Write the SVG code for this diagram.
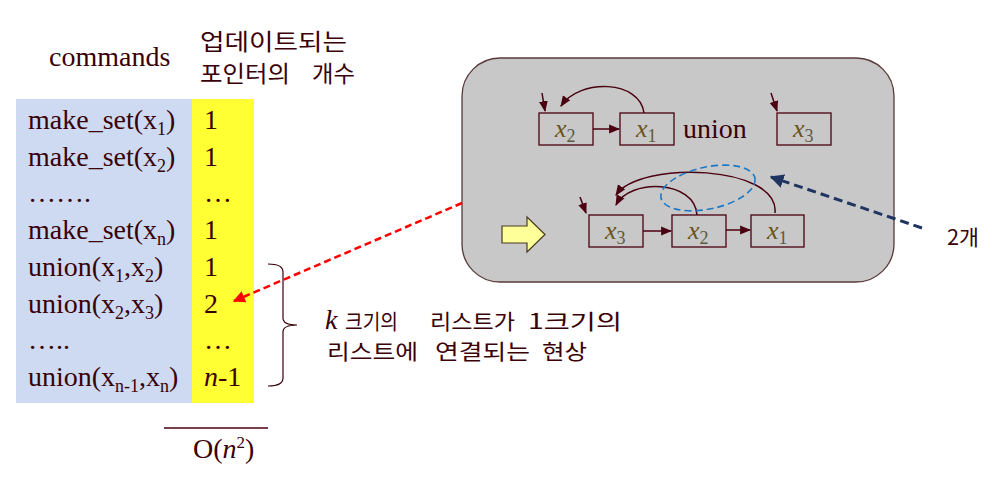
<svg xmlns="http://www.w3.org/2000/svg" width="994" height="484" viewBox="0 0 994 484">
<style>
.t{font-family:"Liberation Serif","Times New Roman",serif;font-size:28px;fill:#3a0008}
.k{font-family:"Noto Sans CJK KR","Noto Sans",sans-serif;font-size:21px;fill:#3a0008}
.h{font-family:"Noto Sans CJK KR","Noto Sans",sans-serif;font-size:23px;fill:#3a0008}
.nb{fill:none;stroke:#4a0010;stroke-width:1.3}
.nx{font-family:"Liberation Serif","Times New Roman",serif;font-style:italic;font-size:26px;fill:#6a5418}
.ns{font-family:"Liberation Serif","Times New Roman",serif;font-style:normal;font-size:18px;fill:#5a5a40}
.ln{fill:none;stroke:#4a0010;stroke-width:1.5}
</style>
<defs>
<marker id="ah2" viewBox="0 0 10 10" refX="9" refY="5" markerWidth="11" markerHeight="11" orient="auto" markerUnits="userSpaceOnUse">
<path d="M0 1 L10 5 L0 9 z" fill="#4a0010"/>
</marker>
<marker id="red" viewBox="0 0 10 10" refX="9" refY="5" markerWidth="12" markerHeight="12" orient="auto" markerUnits="userSpaceOnUse">
<path d="M0 0 L10 5 L0 10 z" fill="#ff0000"/>
</marker>
<marker id="navy" viewBox="0 0 10 10" refX="9" refY="5" markerWidth="14" markerHeight="14" orient="auto" markerUnits="userSpaceOnUse">
<path d="M0 0 L10 5 L0 10 z" fill="#1f3460"/>
</marker>
</defs>

<g id="table">
<rect x="16" y="99" width="176" height="304" fill="#cddaf1"/>
<rect x="192" y="99" width="62" height="304" fill="#ffff33"/>
<text class="t" x="49" y="66">commands</text>
<text class="h" x="200" y="50" textLength="147" lengthAdjust="spacingAndGlyphs">업데이트되는</text>
<text class="h" x="200" y="82" textLength="90" lengthAdjust="spacingAndGlyphs">포인터의</text>
<text class="h" x="312" y="82" textLength="43" lengthAdjust="spacingAndGlyphs">개수</text>
<text class="t" x="28" y="129">make_set(x<tspan dy="6" font-size="18">1</tspan><tspan dy="-6">)</tspan></text>
<text class="t" x="28" y="165.5">make_set(x<tspan dy="6" font-size="18">2</tspan><tspan dy="-6">)</tspan></text>
<text class="t" x="28" y="202">…….</text>
<text class="t" x="28" y="239">make_set(x<tspan dy="6" font-size="18">n</tspan><tspan dy="-6">)</tspan></text>
<text class="t" x="28" y="276">union(x<tspan dy="6" font-size="18">1</tspan><tspan dy="-6">,x</tspan><tspan dy="6" font-size="18">2</tspan><tspan dy="-6">)</tspan></text>
<text class="t" x="28" y="312.5">union(x<tspan dy="6" font-size="18">2</tspan><tspan dy="-6">,x</tspan><tspan dy="6" font-size="18">3</tspan><tspan dy="-6">)</tspan></text>
<text class="t" x="28" y="349">…..</text>
<text class="t" x="28" y="386">union(x<tspan dy="6" font-size="18">n-1</tspan><tspan dy="-6">,x</tspan><tspan dy="6" font-size="18">n</tspan><tspan dy="-6">)</tspan></text>
<text class="t" x="204" y="129">1</text>
<text class="t" x="204" y="165.5">1</text>
<text class="t" x="204" y="202">…</text>
<text class="t" x="204" y="239">1</text>
<text class="t" x="204" y="276">1</text>
<text class="t" x="204" y="312.5">2</text>
<text class="t" x="204" y="349">…</text>
<text class="t" x="204" y="386"><tspan font-style="italic">n</tspan>-1</text>
<line x1="164" y1="428" x2="268" y2="428" stroke="#4a0010" stroke-width="1.3"/>
<text class="t" x="193" y="458">O(<tspan font-style="italic">n</tspan><tspan dy="-10" font-size="17">2</tspan><tspan dy="10">)</tspan></text>
</g>

<g id="brace">
<path d="M268 264 Q283 264 283 272 L283 318 Q283 325 297 325 Q283 325 283 332 L283 378 Q283 386 268 386" fill="none" stroke="#3a0008" stroke-width="1.2"/>
<text class="t" x="325" y="329" font-style="italic" font-size="22">k</text>
<text class="k" x="345" y="329" textLength="53" lengthAdjust="spacingAndGlyphs">크기의</text>
<text class="k" x="430" y="329" textLength="85" lengthAdjust="spacingAndGlyphs">리스트가</text>
<text class="k" x="528" y="329" textLength="94" lengthAdjust="spacingAndGlyphs">1크기의</text>
<text class="k" x="327" y="359" textLength="91" lengthAdjust="spacingAndGlyphs">리스트에</text>
<text class="k" x="435" y="359" textLength="95" lengthAdjust="spacingAndGlyphs">연결되는</text>
<text class="k" x="542" y="359" textLength="45" lengthAdjust="spacingAndGlyphs">현상</text>
</g>

<g id="panel">
<rect x="462" y="58" width="432" height="224" rx="38" ry="38" fill="#c8c8c8" stroke="#5a3a3a" stroke-width="1.3"/>
<path d="M502 226 L527 226 L527 217 L545 234.5 L527 252 L527 243 L502 243 z" fill="#ffff99" stroke="#4a3a20" stroke-width="1.2"/>
</g>

<g id="node-top-x2">
<rect class="nb" x="539" y="113" width="54" height="32"/>
<text class="nx" x="555" y="137">x<tspan class="ns" dy="5">2</tspan></text>
</g>
<g id="node-top-x1">
<rect class="nb" x="620" y="113" width="54" height="32"/>
<text class="nx" x="636" y="137">x<tspan class="ns" dy="5">1</tspan></text>
</g>
<text id="union-label" class="t" x="683" y="138">union</text>
<g id="node-top-x3">
<rect class="nb" x="777" y="113" width="54" height="32"/>
<text class="nx" x="793" y="137">x<tspan class="ns" dy="5">3</tspan></text>
</g>
<g id="node-bot-x3">
<rect class="nb" x="589" y="215" width="54" height="32"/>
<text class="nx" x="605" y="239">x<tspan class="ns" dy="5">3</tspan></text>
</g>
<g id="node-bot-x2">
<rect class="nb" x="672" y="215" width="54" height="32"/>
<text class="nx" x="688" y="239">x<tspan class="ns" dy="5">2</tspan></text>
</g>
<g id="node-bot-x1">
<rect class="nb" x="751" y="215" width="53" height="32"/>
<text class="nx" x="767" y="239">x<tspan class="ns" dy="5">1</tspan></text>
</g>
<text id="label-2" class="k" x="947" y="245" font-size="20" textLength="32" lengthAdjust="spacingAndGlyphs">2개</text>

<g id="connectors">
<line class="ln" x1="593" y1="129" x2="619" y2="129" stroke-width="2" marker-end="url(#ah2)"/>
<path class="ln" d="M644 113 C640 80 580 78 561 106" marker-end="url(#ah2)"/>
<line class="ln" x1="542" y1="93" x2="545" y2="111" marker-end="url(#ah2)"/>
<line class="ln" x1="771" y1="93" x2="777" y2="111" marker-end="url(#ah2)"/>
<line class="ln" x1="643" y1="231" x2="671" y2="231" stroke-width="2" marker-end="url(#ah2)"/>
<line class="ln" x1="726" y1="230" x2="750" y2="230" stroke-width="2" marker-end="url(#ah2)"/>
<path class="ln" d="M697 215 C695 180 630 178 616 205" marker-end="url(#ah2)"/>
<path class="ln" d="M775 213 C780 165 640 160 616 195" marker-end="url(#ah2)"/>
<line class="ln" x1="580" y1="197" x2="586" y2="213" marker-end="url(#ah2)"/>
<ellipse cx="708" cy="188" rx="48" ry="21" transform="rotate(-12 708 188)" fill="none" stroke="#1a78c8" stroke-width="1.6" stroke-dasharray="7 4"/>
<line x1="922" y1="228" x2="771" y2="177" stroke="#1f3460" stroke-width="3" stroke-dasharray="9 5" marker-end="url(#navy)"/>
<line x1="462" y1="203" x2="234" y2="301" stroke="#ff0000" stroke-width="2.5" stroke-dasharray="7 4" marker-end="url(#red)"/>
</g>
</svg>
